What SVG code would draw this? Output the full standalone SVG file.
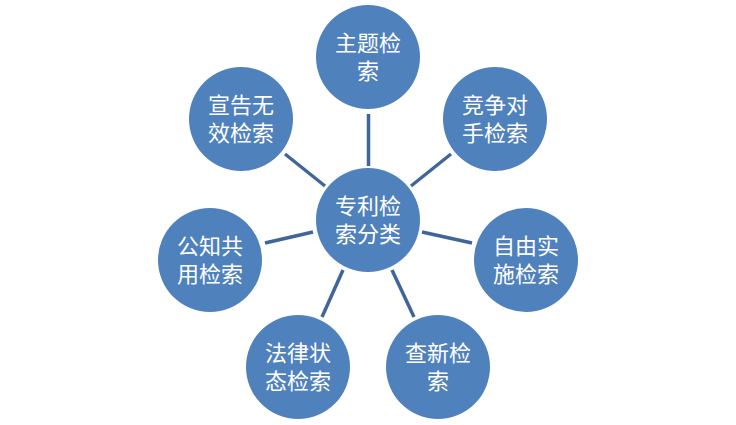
<svg xmlns="http://www.w3.org/2000/svg" width="736" height="425" viewBox="0 0 736 425">
  <style>
    .node circle { fill: #4f81bd; }
    .node text { fill: #ffffff; font-family: "Liberation Sans", "Noto Sans CJK SC", sans-serif; font-size: 22px; text-anchor: middle; }
    .conn line { stroke: #3f6699; stroke-width: 3.5; stroke-linecap: butt; }
  </style>
  <rect width="736" height="425" fill="#ffffff"/>
  <g id="connectors" class="conn">
    <line x1="368.5" y1="114" x2="368.5" y2="166"/>
    <line x1="285" y1="154" x2="325" y2="186"/>
    <line x1="451" y1="154" x2="411" y2="186"/>
    <line x1="265" y1="243" x2="313" y2="232"/>
    <line x1="422" y1="232" x2="472" y2="243"/>
    <line x1="343" y1="270" x2="322" y2="317"/>
    <line x1="392" y1="270" x2="414" y2="317"/>
  </g>
  <g id="center" class="node">
    <circle cx="368" cy="220" r="52"/>
    <text x="368" y="214">专利检</text>
    <text x="368" y="242">索分类</text>
  </g>
  <g id="subject" class="node">
    <circle cx="368" cy="57" r="52"/>
    <text x="368" y="51">主题检</text>
    <text x="368" y="79">索</text>
  </g>
  <g id="competitor" class="node">
    <circle cx="495" cy="119" r="52"/>
    <text x="495" y="113">竞争对</text>
    <text x="495" y="141">手检索</text>
  </g>
  <g id="invalidation" class="node">
    <circle cx="241" cy="119" r="52"/>
    <text x="241" y="113">宣告无</text>
    <text x="241" y="141">效检索</text>
  </g>
  <g id="public" class="node">
    <circle cx="210" cy="260" r="52"/>
    <text x="210" y="254">公知共</text>
    <text x="210" y="282">用检索</text>
  </g>
  <g id="freedom" class="node">
    <circle cx="526" cy="260" r="52"/>
    <text x="526" y="254">自由实</text>
    <text x="526" y="282">施检索</text>
  </g>
  <g id="legal" class="node">
    <circle cx="298" cy="367" r="52"/>
    <text x="298" y="361">法律状</text>
    <text x="298" y="389">态检索</text>
  </g>
  <g id="novelty" class="node">
    <circle cx="438" cy="367" r="52"/>
    <text x="438" y="361">查新检</text>
    <text x="438" y="389">索</text>
  </g>
</svg>
